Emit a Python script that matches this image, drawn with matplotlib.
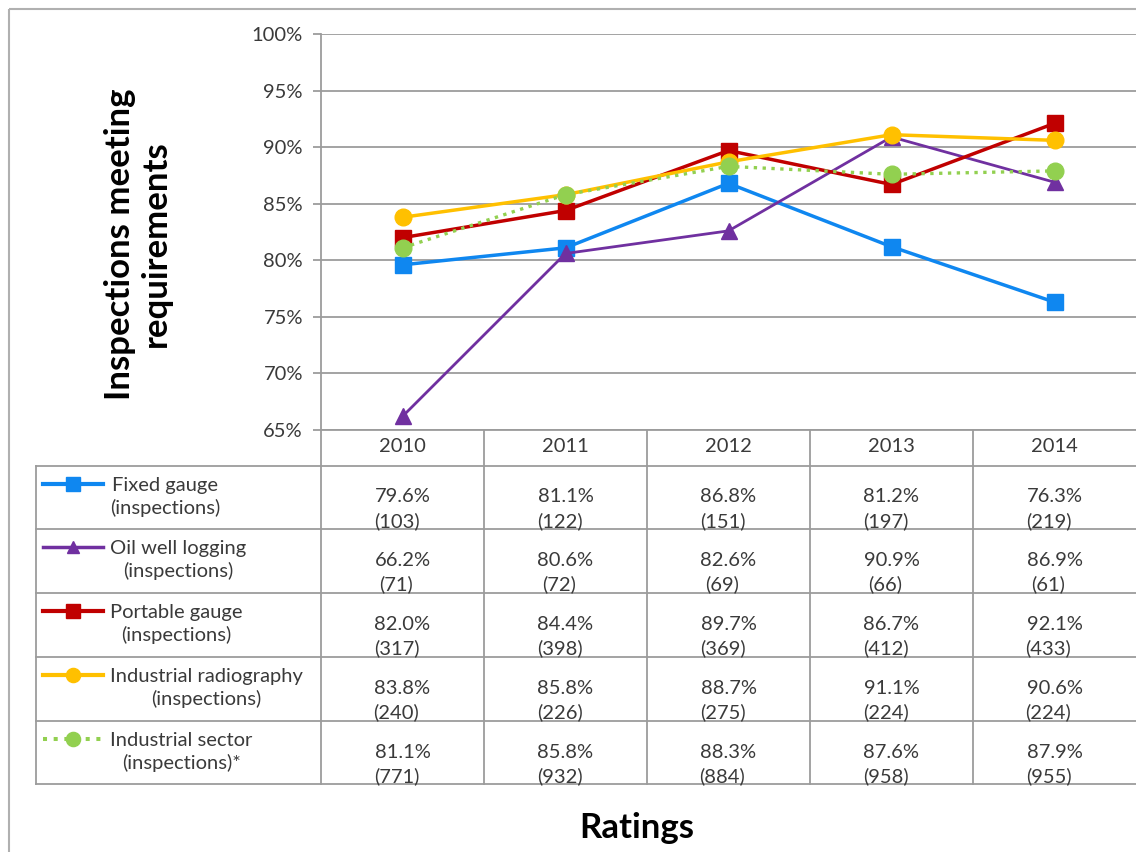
import matplotlib
matplotlib.use("Agg")
import matplotlib.pyplot as plt
from matplotlib.lines import Line2D
from matplotlib.patches import Rectangle

plt.rcParams['font.family'] = ['Lato', 'DejaVu Sans']

years = ['2010', '2011', '2012', '2013', '2014']
fixedGauge = [79.6, 81.1, 86.8, 81.2, 76.3]
oilWell = [66.2, 80.6, 82.6, 90.9, 86.9]
portableGauge = [82.0, 84.4, 89.7, 86.7, 92.1]
radiography = [83.8, 85.8, 88.7, 91.1, 90.6]
sector = [81.1, 85.8, 88.3, 87.6, 87.9]

fixedCounts = [103, 122, 151, 197, 219]
oilCounts = [71, 72, 69, 66, 61]
portableCounts = [317, 398, 369, 412, 433]
radiographyCounts = [240, 226, 275, 224, 224]
sectorCounts = [771, 932, 884, 958, 955]

labels = ['Fixed gauge\n(inspections)', 'Oil well logging\n(inspections)',
          'Portable gauge\n(inspections)', 'Industrial radiography\n(inspections)',
          'Industrial sector\n(inspections)*']

# style per series: color, marker, linestyle, linewidth, markersize
styles = [('#0F87F0', 's', '-', 2.5, 12),
          ('#7030A0', '^', '-', 2.0, 11),
          ('#C00000', 's', '-', 2.5, 12),
          ('#FFC000', 'o', '-', 2.5, 12),
          ('#92D050', 'o', ':', 2.4, 12)]

seriesList = [fixedGauge, oilWell, portableGauge, radiography, sector]
countList = [fixedCounts, oilCounts, portableCounts, radiographyCounts, sectorCounts]

W, H = 1136, 852
fig = plt.figure(figsize=(W / 100, H / 100), dpi=100)
grey = '#9C9C9C'
textc = '#3A3A3A'
fs = 14.5

# pixel overlay for frame and table
ov = fig.add_axes([0, 0, 1, 1])
ov.set_xlim(0, W)
ov.set_ylim(H, 0)
ov.axis('off')
ov.add_patch(Rectangle((9, 9), W + 20, H + 20, fill=False, edgecolor='#B0B0B0', lw=1.5))

axLeft, axRight, axTop, axBottom = 321, 1136, 34, 430
ax = fig.add_axes([axLeft / W, 1 - axBottom / H, (axRight - axLeft) / W, (axBottom - axTop) / H])
xs = [i + 0.5 for i in range(len(years))]
for vals, (c, m, ls, lw, ms) in zip(seriesList, styles):
    ax.plot(xs, [v / 100 for v in vals], color=c, marker=m, linestyle=ls, lw=lw,
            markersize=ms, markeredgecolor=c, zorder=3)
ax.set_xlim(0, 5)
ax.set_ylim(0.65, 1.0)
ax.set_yticks([0.65 + 0.05 * i for i in range(8)])
ax.set_yticklabels(['%d%%' % (65 + 5 * i) for i in range(8)], fontsize=fs, color=textc)
ax.set_xticks([])
ax.yaxis.grid(True, color=grey, lw=1.3)
ax.set_axisbelow(True)
for s in ['top', 'right']:
    ax.spines[s].set_visible(False)
ax.spines['left'].set_color(grey)
ax.spines['bottom'].set_color(grey)
ax.spines['left'].set_linewidth(1.3)
ax.spines['bottom'].set_linewidth(1.3)
ax.tick_params(axis='y', length=6, width=1.3, color=grey, pad=7)
ax.patch.set_alpha(0)

# table
tableLeft = 36
rowTops = [466, 529, 593, 657, 721, 784]
colW = (axRight - axLeft) / 5.0
lc = grey
for y in rowTops:
    ov.plot([tableLeft, W], [y, y], color=lc, lw=1.3)
ov.plot([tableLeft, tableLeft], [rowTops[0], rowTops[-1]], color=lc, lw=1.3)
for i in range(1, 5):
    x = axLeft + colW * i
    ov.plot([x, x], [axBottom, rowTops[-1]], color=lc, lw=1.3)
ov.plot([axLeft, axLeft], [axBottom, rowTops[-1]], color=lc, lw=1.3)

for i, yr in enumerate(years):
    ov.text(axLeft + colW * (i + 0.5), 447, yr, ha='center', va='center', fontsize=fs, color=textc)

for r, (lab, vals, cnts, (c, m, ls, lw, ms)) in enumerate(zip(labels, seriesList, countList, styles)):
    top = rowTops[r]
    ov.add_line(Line2D([43, 103], [top + 18, top + 18], color=c, lw=lw + 0.5, linestyle=ls))
    ov.plot([73], [top + 18], marker=m, color=c, markersize=ms * 0.85, markeredgecolor=c)
    ov.text(110, top + 31, lab, ha='left', va='center', multialignment='center',
            fontsize=fs, color=textc, linespacing=1.35)
    for i in range(5):
        cx = axLeft + colW * (i + 0.5)
        ov.text(cx, top + 31, '%.1f%%' % vals[i], ha='center', va='center', fontsize=fs, color=textc)
        ov.text(cx - 6, top + 55, '(%d)' % cnts[i], ha='center', va='center', fontsize=fs, color=textc)

ov.text(138, 244, 'Inspections meeting\nrequirements', rotation=90, ha='center', va='center',
        fontsize=25, fontweight='bold', color='black', linespacing=1.15)
ov.text(637, 828, 'Ratings', ha='center', va='center', fontsize=25, fontweight='bold', color='black')

fig.savefig('out.png', dpi=100)
